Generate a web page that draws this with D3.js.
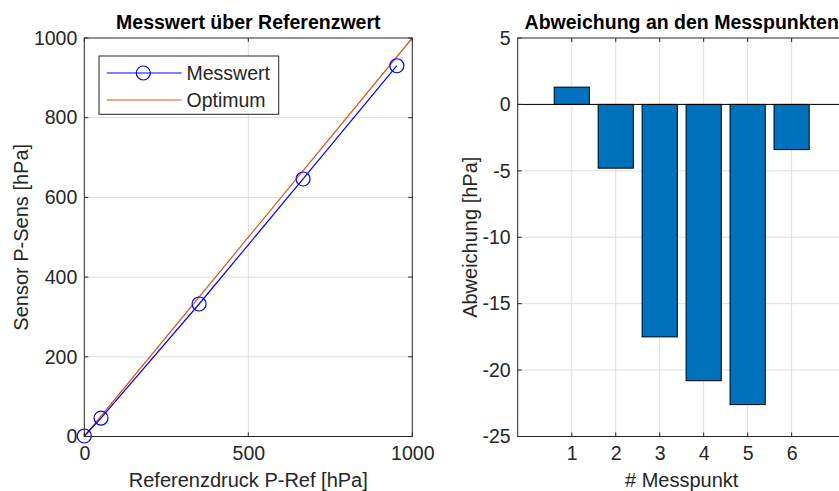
<!DOCTYPE html>
<html>
<head>
<meta charset="utf-8">
<script src="https://cdn.jsdelivr.net/npm/d3@7"></script>
<style>
  body { margin: 0; background: #fff; }
  svg { display: block; font-family: "Liberation Sans", Arial, sans-serif; }
  .tick text { fill: #262626; font-size: 19.5px; }
  .grid line { stroke: #dedede; stroke-width: 1; }
</style>
</head>
<body>
<svg id="chart" width="839" height="491"></svg>
<script>
// Messpunkte: Referenz vs Sensor
const refDruck = [0, 51, 350, 667, 953]
const sensDruck = [1.3, 46.2, 332.5, 646.2, 930.4]
const optimum = [[0, 0], [1000, 1000]]

// Abweichung je Messpunkt
const messpunkte = [1, 2, 3, 4, 5, 6]
const abweichung = [1.3, -4.8, -17.5, -20.8, -22.6, -3.4]

const xTicksLeft = [0, 500, 1000]
const yTicksLeft = [0, 200, 400, 600, 800, 1000]
const yTicksRight = [5, 0, -5, -10, -15, -20, -25]

const svg = d3.select('#chart')
const plotTop = 38, plotBottom = 436.5
const axisColor = '#262626'
const labelSize = 20, titleSize = 19.5, legendSize = 19.5
const fmt = d => String(d)

function frame (g, x0, x1) {
  g.append('rect')
    .attr('x', x0).attr('y', plotTop)
    .attr('width', x1 - x0).attr('height', plotBottom - plotTop)
    .attr('fill', 'none')
    .attr('stroke', axisColor)
    .attr('stroke-width', 1)
}

function inTicks (g, x, y, xt, yt, x0, x1) {
  // MATLAB style ticks pointing inward, on all sides
  const len = 4
  xt.forEach(t => {
    g.append('line').attr('x1', x(t)).attr('x2', x(t)).attr('y1', plotBottom).attr('y2', plotBottom - len).attr('stroke', axisColor)
    g.append('line').attr('x1', x(t)).attr('x2', x(t)).attr('y1', plotTop).attr('y2', plotTop + len).attr('stroke', axisColor)
  })
  yt.forEach(t => {
    g.append('line').attr('x1', x0).attr('x2', x0 + len).attr('y1', y(t)).attr('y2', y(t)).attr('stroke', axisColor)
    g.append('line').attr('x1', x1).attr('x2', x1 - len).attr('y1', y(t)).attr('y2', y(t)).attr('stroke', axisColor)
  })
}

// ---------- linkes Diagramm ----------
{
  const x0 = 84.3, x1 = 412.3
  const x = d3.scaleLinear().domain([0, 1000]).range([x0, x1])
  const y = d3.scaleLinear().domain([0, 1000]).range([plotBottom, plotTop])
  const g = svg.append('g')

  g.append('g').attr('class', 'grid')
    .selectAll('line').data(xTicksLeft.slice(1, -1)).join('line')
    .attr('x1', d => x(d)).attr('x2', d => x(d)).attr('y1', plotTop).attr('y2', plotBottom)
  g.append('g').attr('class', 'grid')
    .selectAll('line').data(yTicksLeft.slice(1, -1)).join('line')
    .attr('x1', x0).attr('x2', x1).attr('y1', d => y(d)).attr('y2', d => y(d))

  const xAxis = d3.axisBottom(x).tickValues(xTicksLeft).tickFormat(fmt).tickSize(0).tickPadding(10)
  g.append('g').attr('transform', `translate(0,${plotBottom})`).call(xAxis)
    .call(s => s.select('.domain').remove())
  const yAxis = d3.axisLeft(y).tickValues(yTicksLeft).tickFormat(fmt).tickSize(0).tickPadding(7)
  g.append('g').attr('transform', `translate(${x0},0)`).call(yAxis)
    .call(s => s.select('.domain').remove())

  g.append('path')
    .datum(optimum)
    .attr('fill', 'none')
    .attr('stroke', '#d95319')
    .attr('stroke-width', 1.2)
    .attr('d', d3.line().x(d => x(d[0])).y(d => y(d[1])))

  const pts = refDruck.map((r, i) => [r, sensDruck[i]])
  g.append('path')
    .datum(pts)
    .attr('fill', 'none')
    .attr('stroke', '#0000ff')
    .attr('stroke-width', 1.2)
    .attr('d', d3.line().x(d => x(d[0])).y(d => y(d[1])))
  g.selectAll('circle').data(pts).join('circle')
    .attr('cx', d => x(d[0])).attr('cy', d => y(d[1]))
    .attr('r', 7)
    .attr('fill', 'none')
    .attr('stroke', '#0000ff')
    .attr('stroke-width', 1.2)

  inTicks(g, x, y, xTicksLeft, yTicksLeft, x0, x1)
  frame(g, x0, x1)

  // Legende
  const lg = g.append('g')
  lg.append('rect').attr('x', 99).attr('y', 56).attr('width', 179.7).attr('height', 58.3)
    .attr('fill', '#fff').attr('stroke', axisColor)
  lg.append('line').attr('x1', 106.7).attr('x2', 181.7).attr('y1', 73).attr('y2', 73).attr('stroke', '#0000ff').attr('stroke-width', 1.2)
  lg.append('circle').attr('cx', 143.3).attr('cy', 73).attr('r', 7).attr('fill', 'none').attr('stroke', '#0000ff').attr('stroke-width', 1.2)
  lg.append('line').attr('x1', 106.7).attr('x2', 181.7).attr('y1', 100).attr('y2', 100).attr('stroke', '#d95319').attr('stroke-width', 1.2)
  lg.append('text').attr('x', 186.5).attr('y', 73).attr('dy', '0.35em').attr('font-size', legendSize).attr('fill', axisColor).text('Messwert')
  lg.append('text').attr('x', 186.5).attr('y', 100).attr('dy', '0.35em').attr('font-size', legendSize).attr('fill', axisColor).text('Optimum')

  g.append('text').attr('x', (x0 + x1) / 2).attr('y', 29)
    .attr('text-anchor', 'middle').attr('font-size', titleSize).attr('font-weight', 'bold').attr('fill', '#000')
    .text('Messwert über Referenzwert')
  g.append('text').attr('x', (x0 + x1) / 2).attr('y', 487)
    .attr('text-anchor', 'middle').attr('font-size', labelSize).attr('fill', axisColor)
    .text('Referenzdruck P-Ref [hPa]')
  g.append('text').attr('transform', `translate(28,${(plotTop + plotBottom) / 2}) rotate(-90)`)
    .attr('text-anchor', 'middle').attr('font-size', labelSize).attr('fill', axisColor)
    .text('Sensor P-Sens [hPa]')
}

// ---------- rechtes Diagramm ----------
{
  const x0 = 517.7, x1 = 845.7
  const x = d3.scaleLinear().domain([-0.23, 7.23]).range([x0, x1])
  const y = d3.scaleLinear().domain([-25, 5]).range([plotBottom, plotTop])
  const g = svg.append('g')

  g.append('g').attr('class', 'grid')
    .selectAll('line').data(messpunkte).join('line')
    .attr('x1', d => x(d)).attr('x2', d => x(d)).attr('y1', plotTop).attr('y2', plotBottom)
  g.append('g').attr('class', 'grid')
    .selectAll('line').data(yTicksRight.slice(1, -1)).join('line')
    .attr('x1', x0).attr('x2', x1).attr('y1', d => y(d)).attr('y2', d => y(d))

  const xAxis = d3.axisBottom(x).tickValues(messpunkte).tickFormat(fmt).tickSize(0).tickPadding(10)
  g.append('g').attr('transform', `translate(0,${plotBottom})`).call(xAxis)
    .call(s => s.select('.domain').remove())
  const yAxis = d3.axisLeft(y).tickValues(yTicksRight).tickFormat(fmt).tickSize(0).tickPadding(7)
  g.append('g').attr('transform', `translate(${x0},0)`).call(yAxis)
    .call(s => s.select('.domain').remove())

  const bw = x(0.8) - x(0)
  g.selectAll('rect.bar').data(abweichung).join('rect')
    .attr('class', 'bar')
    .attr('x', (d, i) => x(messpunkte[i]) - bw / 2)
    .attr('y', d => y(Math.max(d, 0)))
    .attr('width', bw)
    .attr('height', d => Math.abs(y(d) - y(0)))
    .attr('fill', '#0072bd')
    .attr('stroke', '#000')
    .attr('stroke-width', 1)

  g.append('line').attr('x1', x0).attr('x2', x1).attr('y1', y(0)).attr('y2', y(0)).attr('stroke', '#000')

  inTicks(g, x, y, messpunkte, yTicksRight, x0, x1)
  frame(g, x0, x1)

  g.append('text').attr('x', (x0 + x1) / 2).attr('y', 29)
    .attr('text-anchor', 'middle').attr('font-size', titleSize).attr('font-weight', 'bold').attr('fill', '#000')
    .text('Abweichung an den Messpunkten')
  g.append('text').attr('x', (x0 + x1) / 2).attr('y', 487)
    .attr('text-anchor', 'middle').attr('font-size', labelSize).attr('fill', axisColor)
    .text('# Messpunkt')
  g.append('text').attr('transform', `translate(477,${(plotTop + plotBottom) / 2}) rotate(-90)`)
    .attr('text-anchor', 'middle').attr('font-size', labelSize).attr('fill', axisColor)
    .text('Abweichung [hPa]')
}
</script>
</body>
</html>
